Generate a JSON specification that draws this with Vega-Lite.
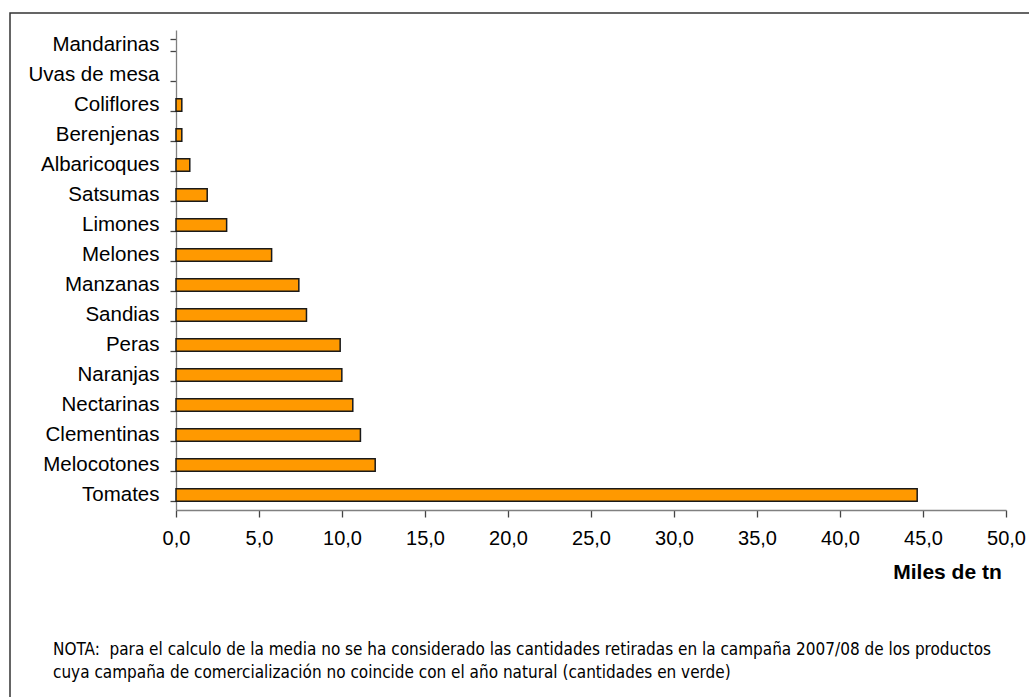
{
  "$schema": "https://vega.github.io/schema/vega-lite/v6.json",
  "width": 1025,
  "height": 690,
  "autosize": {"type": "none"},
  "padding": {"left": 10, "top": 13, "right": -6, "bottom": -6},
  "background": "white",
  "data": {
    "values": [
      {"producto": "Mandarinas", "miles": 0},
      {"producto": "Uvas de mesa", "miles": 0},
      {"producto": "Coliflores", "miles": 0.35},
      {"producto": "Berenjenas\u00a0", "miles": 0.35},
      {"producto": "Albaricoques", "miles": 0.83},
      {"producto": "Satsumas", "miles": 1.88},
      {"producto": "Limones", "miles": 3.05},
      {"producto": "Melones", "miles": 5.76},
      {"producto": "Manzanas", "miles": 7.4},
      {"producto": "Sandias", "miles": 7.86},
      {"producto": "Peras", "miles": 9.89},
      {"producto": "Naranjas", "miles": 9.99},
      {"producto": "Nectarinas", "miles": 10.65},
      {"producto": "Clementinas", "miles": 11.11},
      {"producto": "Melocotones", "miles": 12.0},
      {"producto": "Tomates", "miles": 44.65}
    ]
  },
  "title": {
    "text": [
      "NOTA:\u00a0 para el calculo de la media no se ha considerado las cantidades retiradas en la campaña 2007/08 de los productos",
      "cuya campaña de comercialización no coincide con el año natural (cantidades en verde)"
    ],
    "orient": "bottom",
    "frame": "group",
    "anchor": "start",
    "align": "left",
    "baseline": "alphabetic",
    "offset": -48,
    "dx": 43,
    "font": "DejaVu Sans Condensed, DejaVu Sans, sans-serif",
    "fontSize": 17,
    "fontWeight": "normal",
    "lineHeight": 23,
    "color": "black"
  },
  "mark": {"type": "bar", "fill": "#FF9900", "stroke": "#1a1a1a", "strokeWidth": 1.5},
  "encoding": {
    "strokeOpacity": {
      "condition": {"test": "datum.miles === 0", "value": 0},
      "value": 1
    },
    "y": {
      "field": "producto",
      "type": "nominal",
      "sort": null,
      "scale": {"range": [17, 497], "paddingInner": 0.58, "paddingOuter": 0.29},
      "axis": {
        "title": null,
        "offset": -166,
        "tickBand": "extent",
        "tickSize": 6,
        "tickColor": "#444",
        "tickWidth": 1.3,
        "domainColor": "#808080",
        "domainWidth": 1.3,
        "labelFont": "Liberation Sans, Arial, sans-serif",
        "labelFontSize": 20.5,
        "labelColor": "black",
        "labelPadding": 11,
        "labelLimit": 300,
        "labelOffset": -1,
        "grid": false
      }
    },
    "x": {
      "field": "miles",
      "type": "quantitative",
      "scale": {"domain": [0, 50], "range": [166, 996], "nice": false, "zero": true},
      "axis": {
        "title": "Miles de tn",
        "values": [0, 5, 10, 15, 20, 25, 30, 35, 40, 45, 50],
        "labelExpr": "replace(format(datum.value, '.1f'), '.', ',')",
        "offset": -193,
        "tickSize": 7,
        "tickColor": "#444",
        "tickWidth": 1.3,
        "domainColor": "#808080",
        "domainWidth": 1.3,
        "labelFont": "Liberation Sans, Arial, sans-serif",
        "labelFontSize": 20,
        "labelColor": "black",
        "labelPadding": 11,
        "labelFlush": false,
        "labelOverlap": false,
        "grid": false,
        "titleFont": "Liberation Sans, Arial, sans-serif",
        "titleFontSize": 21,
        "titleFontWeight": "bold",
        "titleColor": "black",
        "titleX": 937,
        "titleY": 68,
        "titleBaseline": "alphabetic",
        "titleAlign": "center"
      }
    }
  },
  "config": {
    "view": {"stroke": "#333333", "strokeWidth": 1.5, "fill": "white"}
  }
}
